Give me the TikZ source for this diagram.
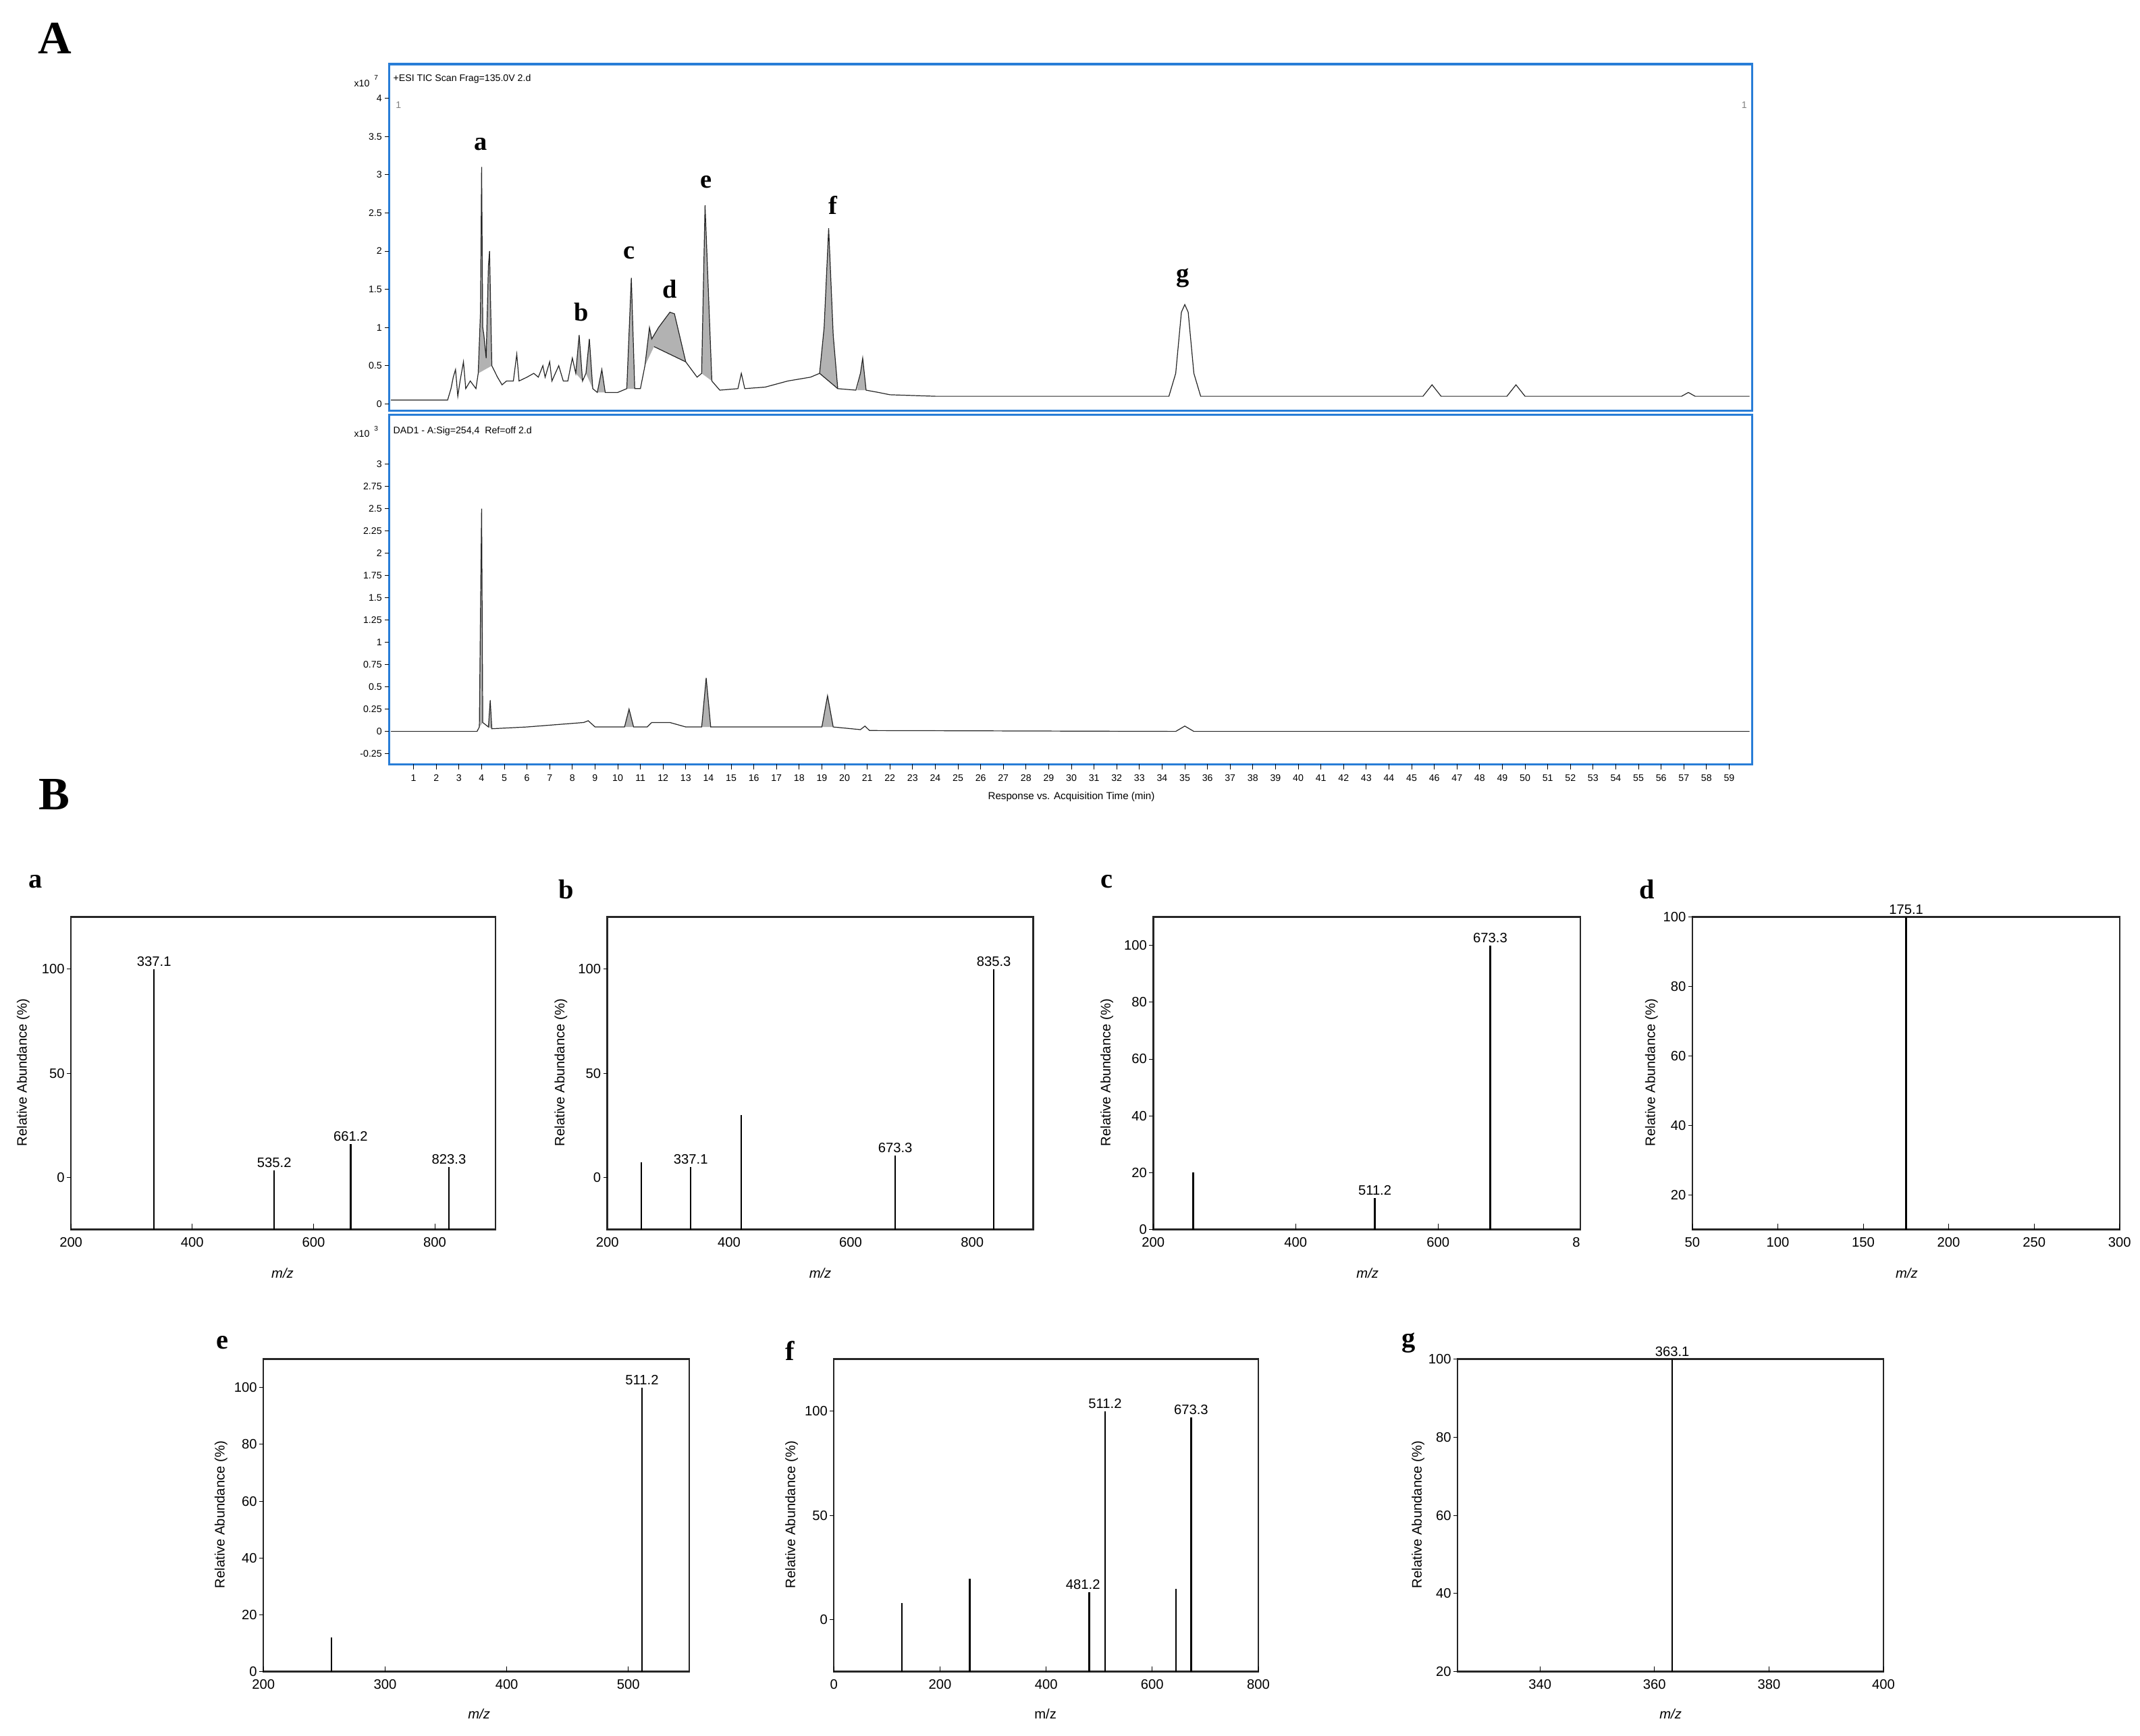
\documentclass[tikz,border=0pt]{standalone}
\usepackage{fontspec}
\setmainfont{Liberation Serif}
\newfontfamily\arialf{Liberation Sans}
\definecolor{frameblue}{RGB}{40,125,215}
\tikzset{
  pk/.style={font=\fontsize{19}{19}\selectfont\bfseries},
  plab/.style={font=\fontsize{20}{20}\selectfont\bfseries},
  tk/.style={font=\arialf\fontsize{7}{7}\selectfont, inner sep=1pt},
  sk/.style={font=\arialf\fontsize{10}{10}\selectfont, inner sep=1.5pt},
  spframe/.style={draw=black!85, line width=1.2pt},
  bar/.style={line width=1.1pt},
  trace/.style={line width=0.6pt, black!85},
  pkfill/.style={fill=black!30},
  bframe/.style={draw=frameblue, line width=1.6pt},
}
\begin{document}
\begin{tikzpicture}[x=1pt,y=-1pt]
\useasboundingbox (0,0) rectangle (1568,1272);
\node[font=\fontsize{34}{34}\selectfont\bfseries] (A) at (40,28) {A};
\node[font=\fontsize{34}{34}\selectfont\bfseries] (B) at (40,582) {B};
% ---------- chromatogram frames ----------
\draw[bframe] (285,47) rectangle (1284,301);
\draw[bframe] (285,304) rectangle (1284,560);
\node[tk,anchor=west] (h1) at (287,58) {+ESI TIC Scan Frag=135.0V 2.d};
\node[tk,anchor=west] (h2) at (287,316) {DAD1 - A:Sig=254,4\ \ Ref=off 2.d};
\node[tk,anchor=east] (x7) at (272,61) {x10};
\node[tk,anchor=west,font=\arialf\fontsize{5}{5}\selectfont] (x7e) at (273,57) {7};
\node[tk,anchor=east] (x3) at (272,318) {x10};
\node[tk,anchor=west,font=\arialf\fontsize{5}{5}\selectfont] (x3e) at (273,314) {3};
\node[tk,text=black!50] (one1) at (292,77) {1};
\node[tk,text=black!50] (one2) at (1278,77) {1};
% top y ticks
\foreach \v/\l in {0/0,0.5/0.5,1/1,1.5/1.5,2/2,2.5/2.5,3/3,3.5/3.5,4/4}{
  \draw (285,296-56*\v) -- (282,296-56*\v);
  \node[tk,anchor=east] (ty\l) at (281,296-56*\v) {\l};
}
% bottom y ticks
\foreach \v/\l in {-0.25/-0.25,0/0,0.25/0.25,0.5/0.5,0.75/0.75,1/1,1.25/1.25,1.5/1.5,1.75/1.75,2/2,2.25/2.25,2.5/2.5,2.75/2.75,3/3}{
  \draw (285,536-65.3*\v) -- (282,536-65.3*\v);
  \node[tk,anchor=east] (by\l) at (281,536-65.3*\v) {\l};
}
% x ticks
\foreach \t in {1,...,59}{
  \draw (286.4+16.62*\t,560) -- (286.4+16.62*\t,564);
  \node[tk] (xt\t) at (286.4+16.62*\t,570) {\t};
}
\node[tk,font=\arialf\fontsize{7.5}{7.5}\selectfont] (xl) at (785,584) {Response vs. Acquisition Time (min)};
% top trace
\begin{scope}[shift={(286.4,296)},x={(16.62pt,0)},y={(0,56pt)}]
\fill[pkfill] (3.85,0.4)--(3.95,1.2)--(4.0,3.1)--(4.05,1.0)--(4.1,0.9)--(4.2,0.6)--(4.3,1.8)--(4.35,2.0)--(4.45,0.5)--cycle;
\fill[pkfill] (8.15,0.4)--(8.3,0.9)--(8.45,0.3)--cycle;
\fill[pkfill] (8.6,0.4)--(8.75,0.85)--(8.9,0.2)--cycle;
\fill[pkfill] (9.1,0.15)--(9.3,0.45)--(9.45,0.15)--cycle;
\fill[pkfill] (10.4,0.2)--(10.6,1.65)--(10.75,0.2)--cycle;
\fill[pkfill] (11.2,0.5)--(11.4,1.0)--(11.5,0.85)--(11.8,1.0)--(12.3,1.2)--(12.5,1.18)--(13.0,0.55)--(11.6,0.75)--cycle;
\fill[pkfill] (13.7,0.4)--(13.85,2.6)--(14.15,0.3)--cycle;
\fill[pkfill] (18.9,0.4)--(19.1,1.0)--(19.3,2.3)--(19.5,0.9)--(19.7,0.2)--cycle;
\fill[pkfill] (20.55,0.18)--(20.7,0.4)--(20.8,0.6)--(20.95,0.18)--cycle;
\draw[trace] (0,0.05)--(2.5,0.05)--(2.65,0.2)--(2.75,0.35)--(2.85,0.45)--(2.95,0.1)--(3.05,0.3)--(3.2,0.55)--(3.3,0.2)--(3.5,0.3)--(3.75,0.2)--(3.85,0.4)--(3.95,1.2)--(4.0,3.1)--(4.05,1.0)--(4.1,0.9)--(4.2,0.6)--(4.3,1.8)--(4.35,2.0)--(4.45,0.5)--(4.7,0.35)--(4.9,0.25)--(5.1,0.3)--(5.4,0.3)--(5.55,0.65)--(5.65,0.3)--(6.0,0.35)--(6.3,0.4)--(6.5,0.35)--(6.7,0.5)--(6.8,0.35)--(7.0,0.55)--(7.1,0.3)--(7.4,0.5)--(7.6,0.3)--(7.8,0.3)--(8.0,0.6)--(8.15,0.4)--(8.3,0.9)--(8.45,0.3)--(8.6,0.4)--(8.75,0.85)--(8.9,0.2)--(9.1,0.15)--(9.3,0.45)--(9.45,0.15)--(10.0,0.15)--(10.4,0.2)--(10.6,1.65)--(10.75,0.2)--(11.0,0.2)--(11.2,0.5)--(11.4,1.0)--(11.5,0.85)--(11.8,1.0)--(12.3,1.2)--(12.5,1.18)--(13.0,0.55)--(13.5,0.35)--(13.7,0.4)--(13.85,2.6)--(14.15,0.3)--(14.5,0.18)--(15.3,0.2)--(15.45,0.4)--(15.6,0.2)--(16.5,0.22)--(17.5,0.3)--(18.5,0.35)--(18.9,0.4)--(19.1,1.0)--(19.3,2.3)--(19.5,0.9)--(19.7,0.2)--(20.5,0.18)--(20.7,0.4)--(20.8,0.6)--(20.95,0.18)--(21.5,0.15)--(22,0.12)--(24,0.1)--(34.3,0.1)--(34.6,0.4)--(34.85,1.2)--(35,1.3)--(35.15,1.2)--(35.4,0.4)--(35.7,0.1)--(45.5,0.1)--(45.9,0.25)--(46.3,0.1)--(49.2,0.1)--(49.6,0.25)--(50,0.1)--(56.9,0.1)--(57.2,0.15)--(57.5,0.1)--(59.9,0.1);
\draw[trace] (11.6,0.75)--(13.0,0.55);
\draw[trace] (18.9,0.4)--(19.7,0.2);
\node[pk] (pa) at (3.95,3.4) {a};
\node[pk] (pb) at (8.4,1.2) {b};
\node[pk] (pc) at (10.5,1.98) {c};
\node[pk] (pd) at (12.3,1.5) {d};
\node[pk] (pe) at (13.9,2.9) {e};
\node[pk] (pf) at (19.5,2.6) {f};
\node[pk] (pg) at (34.9,1.65) {g};
\end{scope}
% bottom trace
\begin{scope}[shift={(286.4,536)},x={(16.62pt,0)},y={(0,65.3pt)}]
\fill[pkfill] (3.9,0.05)--(3.97,1.8)--(4.0,2.5)--(4.05,0.1)--cycle;
\fill[pkfill] (4.3,0.05)--(4.38,0.35)--(4.45,0.03)--cycle;
\fill[pkfill] (10.3,0.05)--(10.5,0.25)--(10.7,0.05)--cycle;
\fill[pkfill] (13.7,0.05)--(13.9,0.6)--(14.1,0.05)--cycle;
\fill[pkfill] (19.0,0.05)--(19.25,0.4)--(19.5,0.05)--cycle;
\draw[trace] (0,0)--(3.8,0)--(3.9,0.05)--(3.97,1.8)--(4.0,2.5)--(4.05,0.1)--(4.3,0.05)--(4.38,0.35)--(4.45,0.03)--(6,0.05)--(7,0.07)--(8.5,0.1)--(8.7,0.12)--(9,0.05)--(10.3,0.05)--(10.5,0.25)--(10.7,0.05)--(11.3,0.05)--(11.5,0.1)--(12.3,0.1)--(13,0.05)--(13.7,0.05)--(13.9,0.6)--(14.1,0.05)--(19.0,0.05)--(19.25,0.4)--(19.5,0.05)--(20.7,0.02)--(20.9,0.06)--(21.1,0.01)--(34.6,0)--(35,0.06)--(35.4,0)--(59.9,0);
\end{scope}
% ---------- mass spectra ----------
% a
\node[plab] (la) at (26,646) {a};
\begin{scope}[shift={(-36.857,862.83)},x={(0.44429pt,0)},y={(0,1.52667pt)}]
\draw[spframe] (200,-25) rectangle (900,125);
\foreach \v in {0,50,100}{\draw (200,\v)--+(-3pt,0); \node[sk,anchor=east] (ay\v) at ([xshift=-3pt]200,\v) {\v};}
\foreach \m in {200,400,600,800}{\draw (\m,-25)--+(0,4pt); \node[sk,anchor=north] (ax\m) at ([yshift=-4pt]\m,-25) {\m};}
\draw[bar] (337.1,-25)--(337.1,100) node[sk,above] (a1) {337.1};
\draw[bar] (535.2,-25)--(535.2,3.3) node[sk,above] (a2) {535.2};
\draw[bar] (661.2,-25)--(661.2,16) node[sk,above] (a3) {661.2};
\draw[bar] (823.3,-25)--(823.3,5) node[sk,above] (a4) {823.3};
\end{scope}
\node[sk,rotate=90] (ya) at (17,786) {Relative Abundance (\%)};
\node[sk,font=\arialf\itshape\fontsize{10}{10}\selectfont] (ma) at (207,933) {m/z};
% b
\node[plab] (lb) at (415,652) {b};
\begin{scope}[shift={(355.86,862.83)},x={(0.44571pt,0)},y={(0,1.52667pt)}]
\draw[spframe] (200,-25) rectangle (900,125);
\foreach \v in {0,50,100}{\draw (200,\v)--+(-3pt,0); \node[sk,anchor=east] (by\v) at ([xshift=-3pt]200,\v) {\v};}
\foreach \m in {200,400,600,800}{\node[sk,anchor=north] (bx\m) at ([yshift=-4pt]\m,-25) {\m};}
\draw[bar] (256,-25)--(256,7.2);
\draw[bar] (337.1,-25)--(337.1,5) node[sk,above] (b1) {337.1};
\draw[bar] (420,-25)--(420,30);
\draw[bar] (673.3,-25)--(673.3,10.5) node[sk,above] (b2) {673.3};
\draw[bar] (835.3,-25)--(835.3,100) node[sk,above] (b3) {835.3};
\end{scope}
\node[sk,rotate=90] (yb) at (411,786) {Relative Abundance (\%)};
\node[sk,font=\arialf\itshape\fontsize{10}{10}\selectfont] (mb) at (601,933) {m/z};
% c
\node[plab] (lc) at (811,646) {c};
\begin{scope}[shift={(740.67,901)},x={(0.52167pt,0)},y={(0,2.0818pt)}]
\draw[spframe] (200,0) rectangle (800,110);
\foreach \v in {0,20,40,60,80,100}{\draw (200,\v)--+(-3pt,0); \node[sk,anchor=east] (cy\v) at ([xshift=-3pt]200,\v) {\v};}
\foreach \m in {200,400,600}{\draw (\m,0)--+(0,4pt); \node[sk,anchor=north] (cx\m) at ([yshift=-4pt]\m,0) {\m};}
\node[sk,anchor=north] (cx800) at ([yshift=-4pt,xshift=-3pt]800,0) {8\hspace{-2pt}};
\draw[bar] (256,0)--(256,20);
\draw[bar] (511.2,0)--(511.2,11) node[sk,above] (c1) {511.2};
\draw[bar] (673.3,0)--(673.3,100) node[sk,above] (c2) {673.3};
\end{scope}
\node[sk,rotate=90] (yc) at (811,786) {Relative Abundance (\%)};
\node[sk,font=\arialf\itshape\fontsize{10}{10}\selectfont] (mc) at (1002,933) {m/z};
% d
\node[plab] (ld) at (1207,652) {d};
\begin{scope}[shift={(1177.4,926.44)},x={(1.252pt,0)},y={(0,2.5444pt)}]
\draw[spframe] (50,10) rectangle (300,100);
\foreach \v in {20,40,60,80,100}{\draw (50,\v)--+(-3pt,0); \node[sk,anchor=east] (dy\v) at ([xshift=-3pt]50,\v) {\v};}
\foreach \m in {50,100,150,200,250,300}{\draw (\m,10)--+(0,4pt); \node[sk,anchor=north] (dx\m) at ([yshift=-4pt]\m,10) {\m};}
\draw[bar] (175.1,10)--(175.1,100) node[sk,above] (d1) {175.1};
\end{scope}
\node[sk,rotate=90] (yd) at (1210,786) {Relative Abundance (\%)};
\node[sk,font=\arialf\itshape\fontsize{10}{10}\selectfont] (md) at (1397,933) {m/z};
% e
\node[plab] (le) at (163,984) {e};
\begin{scope}[shift={(14.71,1225)},x={(0.89143pt,0)},y={(0,2.0818pt)}]
\draw[spframe] (200,0) rectangle (550,110);
\foreach \v in {0,20,40,60,80,100}{\draw (200,\v)--+(-3pt,0); \node[sk,anchor=east] (ey\v) at ([xshift=-3pt]200,\v) {\v};}
\foreach \m in {200,300,400,500}{\draw (\m,0)--+(0,4pt); \node[sk,anchor=north] (ex\m) at ([yshift=-4pt]\m,0) {\m};}
\draw[bar] (256,0)--(256,12);
\draw[bar] (511.2,0)--(511.2,100) node[sk,above] (e1) {511.2};
\end{scope}
\node[sk,rotate=90] (ye) at (162,1110) {Relative Abundance (\%)};
\node[sk,font=\arialf\itshape\fontsize{10}{10}\selectfont] (me) at (351,1256) {m/z};
% f
\node[plab] (lf) at (579,990) {f};
\begin{scope}[shift={(611,1186.83)},x={(0.38875pt,0)},y={(0,1.52667pt)}]
\draw[spframe] (0,-25) rectangle (800,125);
\foreach \v in {0,50,100}{\draw (0,\v)--+(-3pt,0); \node[sk,anchor=east] (fy\v) at ([xshift=-3pt]0,\v) {\v};}
\foreach \m in {0,200,400,600,800}{\draw (\m,-25)--+(0,4pt); \node[sk,anchor=north] (fx\m) at ([yshift=-4pt]\m,-25) {\m};}
\draw[bar] (128,-25)--(128,7.8);
\draw[bar] (256,-25)--(256,19.5);
\draw[bar] (481.2,-25)--(481.2,13) node[sk,anchor=south east,xshift=10pt] (f1) {481.2};
\draw[bar] (511.2,-25)--(511.2,100) node[sk,above] (f2) {511.2};
\draw[bar] (645,-25)--(645,14.7);
\draw[bar] (673.3,-25)--(673.3,97) node[sk,above] (f3) {673.3};
\end{scope}
\node[sk,rotate=90] (yf) at (580,1110) {Relative Abundance (\%)};
\node[sk,font=\arialf\fontsize{10}{10}\selectfont] (mf) at (766,1256) {m/z};
% g
\node[plab] (lg) at (1032,984) {g};
\begin{scope}[shift={(-297.4,1282.25)},x={(4.1935pt,0)},y={(0,2.8625pt)}]
\draw[spframe] (325.6,20) rectangle (400,100);
\foreach \v in {20,40,60,80,100}{\draw (325.6,\v)--+(-3pt,0); \node[sk,anchor=east] (gy\v) at ([xshift=-3pt]325.6,\v) {\v};}
\foreach \m in {340,360,380,400}{\draw (\m,20)--+(0,4pt); \node[sk,anchor=north] (gx\m) at ([yshift=-4pt]\m,20) {\m};}
\draw[bar] (363.1,20)--(363.1,100) node[sk,above] (g1) {363.1};
\end{scope}
\node[sk,rotate=90] (yg) at (1039,1110) {Relative Abundance (\%)};
\node[sk,font=\arialf\itshape\fontsize{10}{10}\selectfont] (mg) at (1224,1256) {m/z};
\end{tikzpicture}
\end{document}
